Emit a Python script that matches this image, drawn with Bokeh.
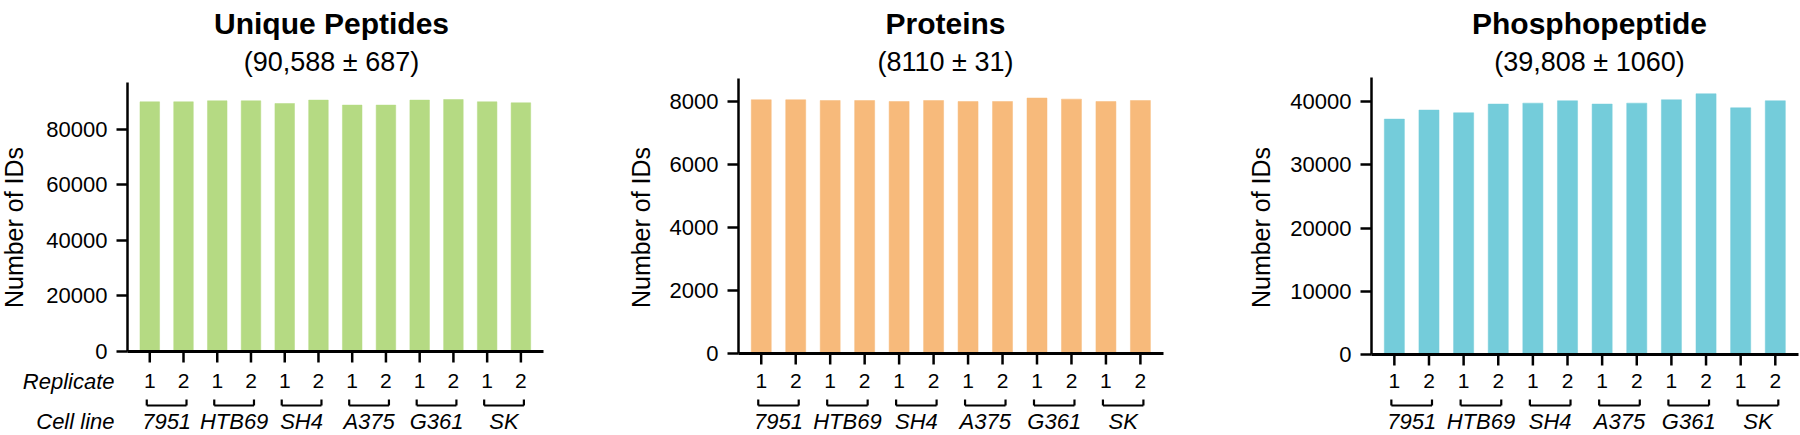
import math
from bokeh.plotting import figure
from bokeh.models import Range1d, FixedTicker, ColumnDataSource, LinearAxis
from bokeh.layouts import row
from bokeh.embed import file_html
from bokeh.resources import INLINE
from bokeh.core.properties import value

# ---------------- data ----------------
cell_lines = ["7951", "HTB69", "SH4", "A375", "G361", "SK"]
replicates = ["1", "2"]

unique_peptides = [89820, 89820, 90180, 90180, 89210, 90430, 88630, 88630, 90430, 90650, 89820, 89460]
proteins = [8065, 8065, 8040, 8040, 8010, 8040, 8010, 8010, 8120, 8085, 8010, 8040]
phosphopeptides = [37260, 38690, 38260, 39640, 39790, 40160, 39640, 39790, 40320, 41270, 39050, 40160]

titles = ["Unique Peptides", "Proteins", "Phosphopeptide"]
subtitles = ["(90,588 \u00b1 687)", "(8110 \u00b1 31)", "(39,808 \u00b1 1060)"]
ticks_peptides = [0, 20000, 40000, 60000, 80000]
ticks_proteins = [0, 2000, 4000, 6000, 8000]
ticks_phospho = [0, 10000, 20000, 30000, 40000]
y_label = "Number of IDs"
row_labels = ["Replicate", "Cell line"]
colors = ["#B5DA83", "#F7BA7B", "#74CCDA"]

FONT = "Liberation Sans"
H = 435

# layout per panel (canvas pixels)
panels = [
    dict(values=unique_peptides, ticks=ticks_peptides, width=615, ax_l=127, ax_r=543,
         top=82, zero=351, ppu=222.4 / 80000, title_cx=331, ylab_cx=13, side_labels=True),
    dict(values=proteins, ticks=ticks_proteins, width=630, ax_l=123, ax_r=548,
         top=78, zero=353, ppu=251.7 / 8000, title_cx=330, ylab_cx=25, side_labels=False),
    dict(values=phosphopeptides, ticks=ticks_phospho, width=555, ax_l=126, ax_r=553,
         top=77, zero=354, ppu=252.7 / 40000, title_cx=344, ylab_cx=15, side_labels=False),
]

X0, X1 = -0.66, 11.67          # data extent of the x axis line
TICK_LEN = 11
TITLE_BASE, SUB_BASE = 23, 61
REP_Y, BR_TOP_Y, BR_BOT_Y, CELL_Y = 380.5, 399, 405, 421   # canvas rows below the axis
YLAB_CY = 227
ROWLAB_RIGHT = 114

figs = []
for i, pc in enumerate(panels):
    ppu, zero = pc["ppu"], pc["zero"]
    pxu = (pc["ax_r"] - pc["ax_l"]) / (X1 - X0)
    to_y = lambda cy: (zero - cy) / ppu
    to_x = lambda cx: X0 + (cx - pc["ax_l"]) / pxu
    axis_top = to_y(pc["top"])
    p = figure(width=pc["width"], height=H, output_backend="svg", toolbar_location=None,
               x_range=Range1d(to_x(0), to_x(pc["width"])), y_range=Range1d(to_y(H), to_y(0)),
               x_axis_location=None, y_axis_location=None, title=None,
               min_border_left=0, min_border_right=0, min_border_top=0, min_border_bottom=0)
    p.outline_line_color = None
    p.grid.visible = False
    p.background_fill_color = "white"

    # bars
    xs, reps = [], []
    for g, cl in enumerate(cell_lines):
        for r, rep in enumerate(replicates):
            xs.append(2 * g + r)
            reps.append(rep)
    src = ColumnDataSource(dict(x=xs, top=pc["values"], rep=reps))
    p.vbar(x="x", top="top", bottom=0, width=0.58, source=src,
           fill_color=colors[i], line_color=colors[i], line_width=0.5)

    # y axis, pinned at the left end of the x axis line
    ax = LinearAxis(fixed_location=X0, ticker=FixedTicker(ticks=pc["ticks"]), bounds=(0, axis_top))
    ax.major_label_text_font = FONT
    ax.major_label_text_font_size = "22px"
    ax.major_label_text_color = "black"
    ax.major_label_standoff = 9
    ax.axis_line_width = 2.5
    ax.axis_line_color = "black"
    ax.major_tick_line_width = 2.5
    ax.major_tick_line_color = "black"
    ax.major_tick_out = TICK_LEN
    ax.major_tick_in = 0
    ax.minor_tick_line_color = None
    p.add_layout(ax, "left")

    p.text(x=[to_x(pc["ylab_cx"])], y=[to_y(YLAB_CY)], text=[y_label], angle=math.pi / 2,
           text_align="center", text_baseline="middle", text_font=value(FONT),
           text_font_size="25px", text_color="black")

    # title and subtitle
    p.text(x=[to_x(pc["title_cx"])], y=[to_y(TITLE_BASE)], text=[titles[i]],
           text_align="center", text_baseline="alphabetic", text_font=value(FONT),
           text_font_size="30px", text_font_style="bold", text_color="black")
    p.text(x=[to_x(pc["title_cx"])], y=[to_y(SUB_BASE)], text=[subtitles[i]],
           text_align="center", text_baseline="alphabetic", text_font=value(FONT),
           text_font_size="27px", text_color="black")

    # x axis line and ticks
    p.segment(x0=[X0], y0=[0], x1=[X1], y1=[0], line_color="black", line_width=2.8)
    p.segment(x0="x", y0=0, x1="x", y1=-TICK_LEN / ppu, source=src,
              line_color="black", line_width=2.5)
    p.text(x="x", y=to_y(REP_Y), text="rep", source=src, text_align="center",
           text_baseline="middle", text_font=value(FONT), text_font_size="21px",
           text_color="black")

    # brackets and cell line labels
    d = 3 / pxu
    gx = [2 * g + 0.5 for g in range(len(cell_lines))]
    left_x = [2 * g - d for g in range(len(cell_lines))]
    right_x = [2 * g + 1 + d for g in range(len(cell_lines))]
    yb, yt = to_y(BR_BOT_Y), to_y(BR_TOP_Y)
    p.segment(x0=left_x, y0=[yb] * 6, x1=right_x, y1=[yb] * 6, line_color="black", line_width=2.2)
    p.segment(x0=left_x + right_x, y0=[yb] * 12, x1=left_x + right_x, y1=[yt] * 12,
              line_color="black", line_width=2.2)
    p.text(x=gx, y=[to_y(CELL_Y)] * 6, text=cell_lines, text_align="center",
           text_baseline="middle", text_font=value(FONT), text_font_size="22px",
           text_font_style="italic", text_color="black")

    if pc["side_labels"]:
        p.text(x=[to_x(ROWLAB_RIGHT)] * 2, y=[to_y(REP_Y), to_y(CELL_Y)], text=row_labels,
               text_align="right", text_baseline="middle", text_font=value(FONT),
               text_font_size="22px", text_font_style="italic", text_color="black")

    figs.append(p)

layout = row(*figs)
open("out.html", "w").write(file_html(layout, INLINE))
